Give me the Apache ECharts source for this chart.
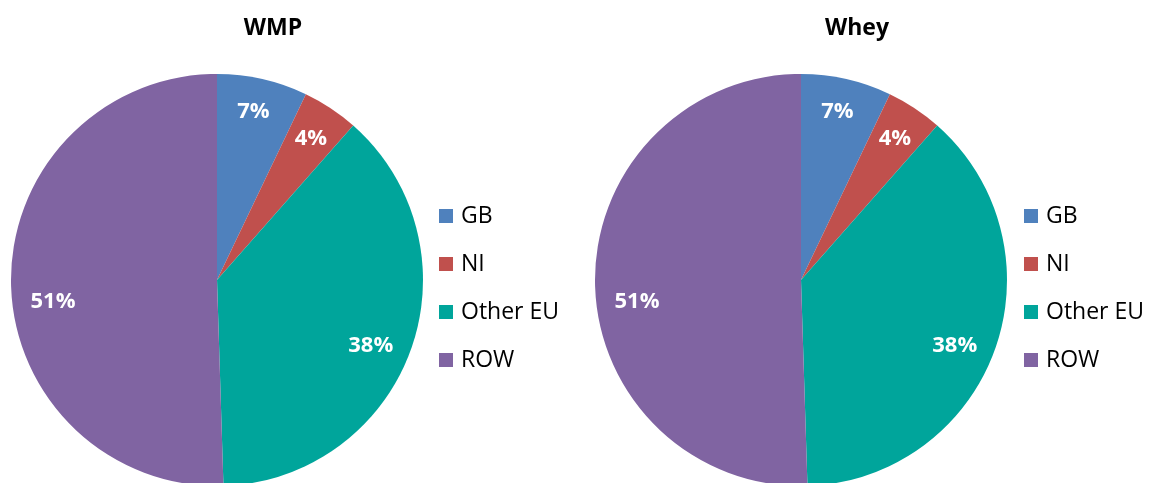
<!DOCTYPE html>
<html>
<head>
<meta charset="utf-8">
<script src="https://cdn.jsdelivr.net/npm/echarts@6/dist/echarts.min.js"></script>
<style>
  html, body { margin: 0; padding: 0; background: #fff; }
  #chart { width: 1158px; height: 483px; }
</style>
</head>
<body>
<div id="chart"></div>
<script>
// data (percent share)
const categories = ['GB', 'NI', 'Other EU', 'ROW'];
const wmpValues = [7.1, 4.4, 38.0, 50.5];
const wheyValues = [7.1, 4.4, 38.0, 50.5];
const colors = ['#4f81bd', '#c0504d', '#00a59b', '#8064a2'];

const font = '"Open Sans", "Noto Sans", sans-serif';
const chart = echarts.init(document.getElementById('chart'));

// Excel nudges some labels off the mid angle
const labelNudge = [[-2, 1], [-2, 4], [-10, 7], [10, 19]];

const toData = vals => categories.map((name, i) => ({ name, value: vals[i] }));

// main pie (no labels)
const pieSeries = (vals, cx) => ({
  type: 'pie',
  center: [cx, 280],
  radius: 206,
  startAngle: 90,
  clockwise: true,
  data: toData(vals),
  label: { show: false },
  labelLine: { show: false },
  itemStyle: { borderWidth: 0 },
  emphasis: { disabled: true },
  animation: false
});

// transparent ring just to put the % labels further out, like Excel
const labelSeries = (vals, cx) => ({
  type: 'pie',
  center: [cx, 280],
  radius: [136, 206],
  startAngle: 90,
  clockwise: true,
  silent: true,
  data: toData(vals).map((d, i) => ({ ...d, label: { offset: labelNudge[i] } })),
  itemStyle: { color: 'rgba(0,0,0,0)', borderWidth: 0 },
  label: {
    show: true,
    position: 'inside',
    formatter: p => Math.round(p.percent) + '%',
    color: '#fff',
    fontFamily: font,
    fontWeight: 'bold',
    fontSize: 22
  },
  labelLine: { show: false },
  emphasis: { disabled: true },
  animation: false
});

const legendAt = left => ({
  orient: 'vertical',
  left: left,
  top: 204,
  padding: 0,
  data: categories,
  icon: 'rect',
  itemWidth: 14,
  itemHeight: 14,
  itemGap: 24,
  selectedMode: false,
  textStyle: { fontFamily: font, fontSize: 23, color: '#000', lineHeight: 24, padding: [0, 0, 0, 3] }
});

const titleStyle = { fontFamily: font, fontWeight: 'bold', fontSize: 23, color: '#000' };

chart.setOption({
  color: colors,
  title: [
    { text: 'WMP', left: 268, top: 12, textAlign: 'center', textStyle: titleStyle },
    { text: 'Whey', left: 852, top: 12, textAlign: 'center', textStyle: titleStyle }
  ],
  legend: [legendAt(439), legendAt(1024)],
  series: [
    pieSeries(wmpValues, 217),
    pieSeries(wheyValues, 801),
    labelSeries(wmpValues, 217),
    labelSeries(wheyValues, 801)
  ]
});
</script>
</body>
</html>
